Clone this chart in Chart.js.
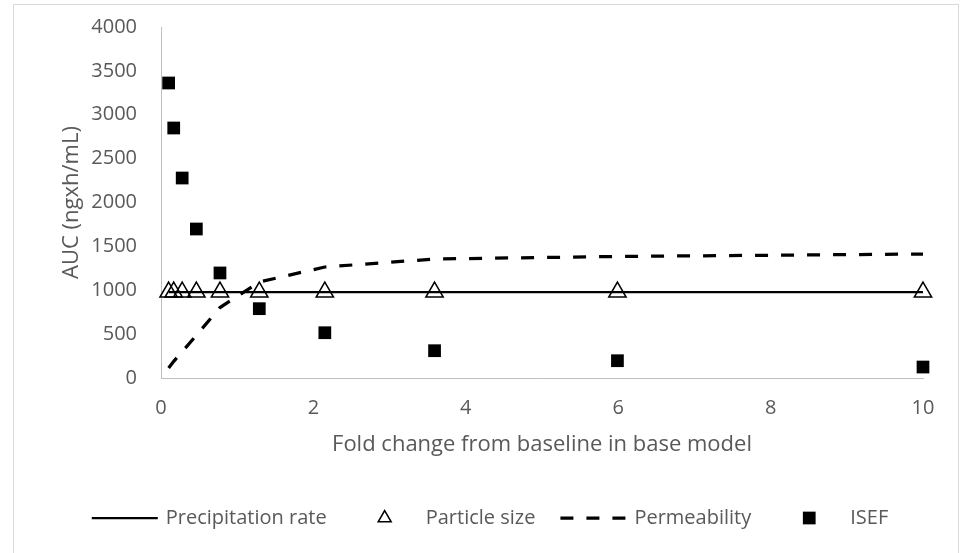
<!DOCTYPE html>
<html>
<head>
<meta charset="utf-8">
<title>AUC vs fold change from baseline</title>
<script src="https://cdn.jsdelivr.net/npm/chart.js@4.4.1/dist/chart.umd.min.js"></script>
<style>
  html, body { margin: 0; padding: 0; background: #fff; }
  #wrap { width: 961px; height: 553px; }
</style>
</head>
<body>
<div id="wrap"><canvas id="aucChart" width="961" height="553"></canvas></div>
<script>
// DATA
const foldChange = [0.1, 0.167, 0.278, 0.464, 0.774, 1.29, 2.15, 3.59, 5.99, 10];
const precipitationAuc = [980, 980, 980, 980, 980, 980, 980, 980, 980, 980];
const particleSizeAuc = [980, 980, 980, 980, 980, 980, 980, 980, 980, 980];
const permeabilityAuc = [114, 190, 300, 487, 803, 1094, 1265, 1356, 1385, 1413];
const isefAuc = [3362, 2849, 2279, 1698, 1197, 790, 516, 311, 197, 125];
const xTicks = [0, 2, 4, 6, 8, 10];
const yTicks = [0, 500, 1000, 1500, 2000, 2500, 3000, 3500, 4000];

const textGrey = '#595959';
const axisGrey = '#bfbfbf';
const fontFamily = '"Open Sans", sans-serif';

// pair x values with a series
const toPoints = values => foldChange.map((x, i) => ({ x: x, y: values[i] }));

// white background + thin outer chart frame
const framePlugin = {
    id: 'frame',
    beforeDraw(chart) {
        const ctx = chart.ctx;
        ctx.save();
        ctx.fillStyle = '#ffffff';
        ctx.fillRect(0, 0, chart.width, chart.height);
        ctx.strokeStyle = '#d9d9d9';
        ctx.lineWidth = 1;
        ctx.strokeRect(13.5, 4.5, 945, 600);
        ctx.restore();
    }
};

// Excel-like legend row under the axis title
const legendPlugin = {
    id: 'bottomLegend',
    afterDraw(chart) {
        const ctx = chart.ctx;
        const slot = 66, gap = 8, spacing = 25, cy = 518, centerX = 490;
        ctx.save();
        ctx.font = '20px ' + fontFamily;
        ctx.textBaseline = 'middle';
        const items = chart.data.datasets.map(ds => ({
            ds: ds,
            width: slot + gap + ctx.measureText(ds.label).width
        }));
        const total = items.reduce((sum, it) => sum + it.width, 0) + spacing * (items.length - 1);
        let x = centerX - total / 2;

        items.forEach(it => {
            const ds = it.ds;
            const mid = x + slot / 2;
            ctx.strokeStyle = '#000';
            ctx.fillStyle = '#000';
            if (ds.showLine) {
                ctx.lineWidth = ds.borderWidth;
                ctx.setLineDash(ds.borderDash || []);
                ctx.beginPath();
                ctx.moveTo(x, cy);
                ctx.lineTo(x + slot, cy);
                ctx.stroke();
                ctx.setLineDash([]);
            } else if (ds.pointStyle === 'triangle') {
                const r = 7.5;
                ctx.lineWidth = ds.pointBorderWidth;
                ctx.beginPath();
                ctx.moveTo(mid, cy - r);
                ctx.lineTo(mid + r * Math.sqrt(3) / 2, cy + r / 2);
                ctx.lineTo(mid - r * Math.sqrt(3) / 2, cy + r / 2);
                ctx.closePath();
                ctx.stroke();
            } else {
                const half = ds.pointRadius * Math.SQRT1_2;
                ctx.fillRect(mid - half, cy - half, half * 2, half * 2);
            }
            ctx.fillStyle = textGrey;
            ctx.textAlign = 'left';
            ctx.fillText(ds.label, x + slot + gap, cy);
            x += it.width + spacing;
        });
        ctx.restore();
    }
};

const ctx = document.getElementById('aucChart').getContext('2d');
const aucChart = new Chart(ctx, {
    type: 'scatter',
    data: {
        datasets: [
            {
                label: 'Precipitation rate',
                data: toPoints(precipitationAuc),
                showLine: true,
                borderColor: '#000',
                borderWidth: 2.25,
                pointRadius: 0,
                clip: false,
                order: 1
            },
            {
                label: 'Particle size',
                data: toPoints(particleSizeAuc),
                showLine: false,
                pointStyle: 'triangle',
                pointRadius: 10,
                pointBorderWidth: 1.5,
                pointBorderColor: '#000',
                pointBackgroundColor: 'rgba(255,255,255,0)',
                clip: false,
                order: 3
            },
            {
                label: 'Permeability',
                data: toPoints(permeabilityAuc),
                showLine: true,
                borderColor: '#000',
                borderWidth: 3.25,
                borderDash: [13, 13],
                pointRadius: 0,
                clip: false,
                order: 2
            },
            {
                label: 'ISEF',
                data: toPoints(isefAuc),
                showLine: false,
                pointStyle: 'rect',
                pointRadius: 9,
                pointBorderWidth: 0,
                pointBackgroundColor: '#000',
                pointBorderColor: '#000',
                clip: false,
                order: 4
            }
        ]
    },
    options: {
        responsive: false,
        devicePixelRatio: 1,
        animation: false,
        layout: {
            padding: { top: 27, right: 38, bottom: 85, left: 0 }
        },
        plugins: {
            legend: { display: false },
            tooltip: { enabled: false }
        },
        scales: {
            x: {
                type: 'linear',
                min: 0,
                max: 10,
                afterBuildTicks: s => { s.ticks = xTicks.map(v => ({ value: v })); },
                afterFit: s => { s.height = 90; },
                grid: { display: false, drawTicks: false, tickLength: 0 },
                border: { display: true, color: axisGrey, width: 1 },
                ticks: {
                    padding: 18,
                    color: textGrey,
                    font: { family: fontFamily, size: 20 },
                    callback: v => String(v)
                },
                title: {
                    display: true,
                    text: 'Fold change from baseline in base model',
                    color: textGrey,
                    font: { family: fontFamily, size: 22 },
                    padding: { top: 0, bottom: 10 }
                }
            },
            y: {
                type: 'linear',
                min: 0,
                max: 4000,
                afterBuildTicks: s => { s.ticks = yTicks.map(v => ({ value: v })); },
                afterFit: s => {
                    s.width = 161;
                    s.paddingTop = 0;
                    s.paddingBottom = 0;
                },
                grid: { display: false, drawTicks: false, tickLength: 0 },
                border: { display: true, color: axisGrey, width: 1 },
                ticks: {
                    padding: 24,
                    color: textGrey,
                    font: { family: fontFamily, size: 20 },
                    callback: v => String(v)
                },
                title: {
                    display: true,
                    text: 'AUC (ngxh/mL)',
                    color: textGrey,
                    font: { family: fontFamily, size: 22 },
                    padding: { top: 59, bottom: 0 }
                }
            }
        }
    },
    plugins: [framePlugin, legendPlugin]
});
</script>
</body>
</html>
